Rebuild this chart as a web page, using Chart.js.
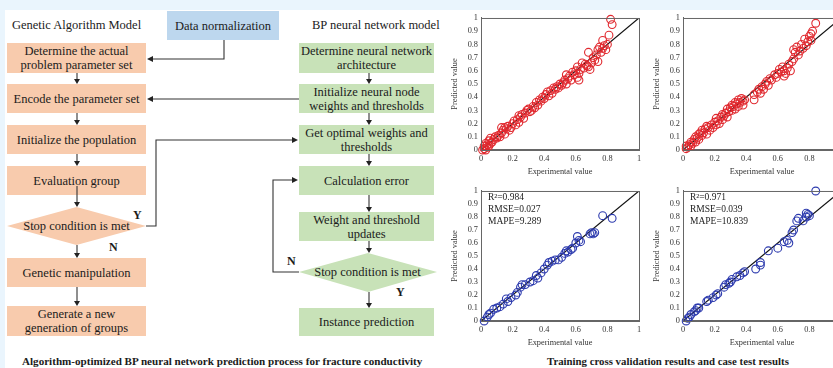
<!DOCTYPE html>
<html lang="en">
<head>
<meta charset="UTF-8">
<title>Algorithm-optimized BP neural network prediction</title>
<script src="https://cdn.jsdelivr.net/npm/chart.js@4"></script>
<style>
  body { margin: 0; background: #fff; }
  #page {
    position: relative; width: 833px; height: 368px; overflow: hidden;
    background: #fff; font-family: "Liberation Serif", serif; color: #1b1b1b;
  }
  .band-top { position: absolute; left: 0; top: 0; width: 833px; height: 10px; background: #eaf5fd; }
  .band-left { position: absolute; left: 0; top: 0; width: 5px; height: 368px; background: #eaf5fd; }
  .box {
    position: absolute; display: flex; align-items: center; justify-content: center;
    text-align: center; font-size: 12.5px; line-height: 14px;
  }
  .ga { background: #f8cbad; }
  .bp { background: #c8e2b8; }
  .norm { background: #bdd7ee; }
  .label { position: absolute; font-size: 12.5px; white-space: nowrap; line-height: 14px; }
  .yn { position: absolute; font-weight: bold; font-size: 12px; line-height: 12px; }
  .caption { position: absolute; font-weight: bold; font-size: 11.1px; white-space: nowrap; line-height: 12px; }
  canvas { position: absolute; }
  svg { position: absolute; left: 0; top: 0; }
</style>
</head>
<body>
<div id="page">
  <div class="band-top"></div>
  <div class="band-left"></div>

  <div class="label" style="left:12px; top:18px;">Genetic Algorithm Model</div>
  <div class="label" style="left:312px; top:18px;">BP neural network model</div>
  <div class="box norm" style="left:167px; top:11px; width:112px; height:29px;">Data normalization</div>

  <div id="flow"></div>

  <svg id="lines" width="833" height="368"></svg>

  <div class="label" style="left:7px; top:219px; width:139px; text-align:center;">Stop condition is met</div>
  <div class="label" style="left:299px; top:265px; width:137px; text-align:center;">Stop condition is met</div>
  <div class="yn" style="left:133px; top:209px;">Y</div>
  <div class="yn" style="left:109px; top:241px;">N</div>
  <div class="yn" style="left:287px; top:255px;">N</div>
  <div class="yn" style="left:396px; top:286px;">Y</div>

  <canvas id="c1" width="205" height="172" style="left:445px; top:10px;"></canvas>
  <canvas id="c2" width="205" height="172" style="left:647px; top:10px;"></canvas>
  <canvas id="c3" width="205" height="170" style="left:445px; top:183px;"></canvas>
  <canvas id="c4" width="205" height="170" style="left:647px; top:183px;"></canvas>

  <div class="caption" style="left:22px; top:355px;">Algorithm-optimized BP neural network prediction process for fracture conductivity</div>
  <div class="caption" style="left:547px; top:355px; font-size:10.8px;">Training cross validation results and case test results</div>
</div>

<script>
// ---- data ----
const trainAX = [0.01,0.02,0.02,0.03,0.03,0.04,0.04,0.05,0.05,0.06,0.06,0.07,0.08,0.09,0.10,0.11,0.12,0.13,0.13,0.14,
  0.15,0.15,0.16,0.17,0.18,0.19,0.20,0.21,0.22,0.23,0.24,0.24,0.25,0.26,0.27,0.28,0.29,0.30,0.31,0.32,
  0.33,0.34,0.35,0.36,0.37,0.38,0.39,0.40,0.41,0.42,0.43,0.44,0.45,0.46,0.47,0.48,0.49,0.50,0.51,0.52,
  0.53,0.54,0.54,0.55,0.56,0.57,0.58,0.59,0.60,0.61,0.61,0.62,0.62,0.63,0.64,0.65,0.66,0.67,0.68,0.68,
  0.69,0.70,0.71,0.72,0.73,0.74,0.74,0.75,0.76,0.77,0.77,0.78,0.79,0.80,0.81,0.82,0.83];
const trainAY = [0.00,0.01,0.03,0.00,0.05,0.02,0.04,0.07,0.03,0.05,0.09,0.06,0.08,0.10,0.09,0.11,0.10,0.17,0.13,0.15,
  0.17,0.12,0.16,0.18,0.15,0.17,0.20,0.22,0.19,0.23,0.21,0.26,0.25,0.27,0.24,0.28,0.30,0.31,0.29,0.30,
  0.33,0.32,0.36,0.34,0.38,0.37,0.40,0.39,0.42,0.44,0.41,0.45,0.43,0.47,0.46,0.48,0.47,0.50,0.49,0.51,
  0.53,0.57,0.50,0.54,0.56,0.53,0.59,0.57,0.60,0.55,0.63,0.53,0.58,0.61,0.66,0.62,0.65,0.64,0.74,0.63,
  0.61,0.66,0.70,0.68,0.72,0.67,0.76,0.78,0.74,0.83,0.77,0.79,0.76,0.80,0.87,0.99,0.95];

const trainBX = [0.02,0.02,0.03,0.04,0.05,0.05,0.06,0.07,0.08,0.08,0.09,0.10,0.10,0.11,0.12,0.12,0.13,0.14,0.15,0.15,
  0.16,0.17,0.18,0.19,0.20,0.21,0.21,0.22,0.23,0.24,0.25,0.25,0.26,0.27,0.28,0.28,0.29,0.30,0.31,0.31,
  0.32,0.33,0.33,0.34,0.35,0.35,0.36,0.37,0.38,0.38,0.39,0.45,0.45,0.47,0.48,0.49,0.50,0.51,0.52,0.53,
  0.54,0.55,0.56,0.58,0.59,0.60,0.61,0.62,0.63,0.64,0.64,0.65,0.66,0.67,0.68,0.69,0.70,0.70,0.71,0.72,
  0.73,0.74,0.75,0.76,0.77,0.78,0.79,0.80,0.81,0.81,0.82,0.84];
const trainBY = [0.01,0.03,0.02,0.04,0.03,0.06,0.05,0.08,0.06,0.10,0.09,0.12,0.08,0.13,0.11,0.15,0.13,0.16,0.12,0.18,
  0.17,0.15,0.19,0.17,0.21,0.19,0.24,0.22,0.20,0.25,0.23,0.27,0.26,0.28,0.25,0.31,0.29,0.32,0.30,0.34,
  0.33,0.31,0.36,0.35,0.33,0.38,0.36,0.39,0.37,0.34,0.38,0.38,0.42,0.44,0.46,0.43,0.48,0.46,0.50,0.52,
  0.49,0.54,0.53,0.57,0.55,0.58,0.61,0.59,0.63,0.56,0.60,0.58,0.62,0.65,0.60,0.67,0.69,0.76,0.74,0.78,
  0.72,0.75,0.80,0.77,0.84,0.79,0.82,0.86,0.83,0.88,0.90,0.96];

const testAX = [0.02,0.04,0.05,0.06,0.08,0.10,0.12,0.14,0.16,0.17,0.19,0.22,0.23,0.25,0.26,0.28,0.31,0.33,0.35,0.36,
  0.38,0.40,0.42,0.43,0.45,0.47,0.49,0.51,0.53,0.54,0.55,0.57,0.58,0.60,0.61,0.62,0.63,0.69,0.70,0.71,
  0.72,0.77,0.83];
const testAY = [0.00,0.03,0.05,0.06,0.09,0.10,0.11,0.13,0.17,0.15,0.18,0.20,0.22,0.26,0.28,0.28,0.30,0.31,0.35,0.33,
  0.37,0.40,0.43,0.45,0.46,0.47,0.47,0.49,0.52,0.54,0.53,0.55,0.56,0.60,0.65,0.62,0.61,0.67,0.68,0.67,
  0.68,0.81,0.79];

const testBX = [0.02,0.03,0.04,0.05,0.07,0.08,0.09,0.10,0.15,0.16,0.19,0.21,0.22,0.26,0.27,0.29,0.30,0.31,0.34,0.36,
  0.38,0.39,0.46,0.49,0.49,0.54,0.60,0.64,0.66,0.67,0.69,0.70,0.72,0.73,0.76,0.78,0.78,0.79,0.80,0.84];
const testBY = [0.00,0.02,0.03,0.05,0.07,0.08,0.10,0.10,0.15,0.16,0.18,0.20,0.21,0.26,0.28,0.29,0.30,0.32,0.34,0.35,
  0.37,0.38,0.40,0.45,0.43,0.54,0.56,0.61,0.62,0.60,0.68,0.70,0.77,0.79,0.77,0.80,0.83,0.82,0.81,1.00];

const diagX = [0, 1];
const diagY = [0, 1];

const testAStats = ['R\u00b2=0.984', 'RMSE=0.027', 'MAPE=9.289'];
const testBStats = ['R\u00b2=0.971', 'RMSE=0.039', 'MAPE=10.839'];

const redPoint = '#e0282e';
const bluePoint = '#2c3aae';

// ---- flowchart boxes ----
const gaSteps = [
  [43, 30, 'Determine the actual<br>problem parameter set'],
  [84, 29, 'Encode the parameter set'],
  [125, 29, 'Initialize the population'],
  [166, 29, 'Evaluation group'],
  [258, 29, 'Genetic manipulation'],
  [306, 30, 'Generate a new<br>generation of groups']
];
const bpSteps = [
  [43, 30, 'Determine neural network<br>architecture'],
  [84, 29, 'Initialize neural node<br>weights and thresholds'],
  [125, 29, 'Get optimal weights and<br>thresholds'],
  [166, 29, 'Calculation error'],
  [212, 29, 'Weight and threshold<br>updates'],
  [308, 28, 'Instance prediction']
];

const flow = document.getElementById('flow');
gaSteps.forEach(s => {
  flow.insertAdjacentHTML('beforeend',
    `<div class="box ga" style="left:7px;top:${s[0]}px;width:139px;height:${s[1]}px;">${s[2]}</div>`);
});
bpSteps.forEach(s => {
  flow.insertAdjacentHTML('beforeend',
    `<div class="box bp" style="left:299px;top:${s[0]}px;width:135px;height:${s[1]}px;">${s[2]}</div>`);
});

// connectors
const svg = document.getElementById('lines');
let svgHtml = '';
svgHtml += '<polygon points="7,226 76.5,207 146,226 76.5,245" fill="#f8cbad"/>';
svgHtml += '<polygon points="299,272 368,253 437,272 368,292" fill="#c8e2b8"/>';

function path(pts) {
  svgHtml += `<polyline points="${pts.map(p => p.join(',')).join(' ')}" fill="none" stroke="#333" stroke-width="1.1"/>`;
}
function head(x, y, dir) {
  let p;
  if (dir === 'down') p = [[x - 3, y - 5], [x + 3, y - 5], [x, y]];
  else if (dir === 'left') p = [[x + 6, y - 3], [x + 6, y + 3], [x, y]];
  else p = [[x - 6, y - 3], [x - 6, y + 3], [x, y]];
  svgHtml += `<polygon points="${p.map(q => q.join(',')).join(' ')}" fill="#222"/>`;
}
function down(x, y1, y2) { path([[x, y1], [x, y2 - 2]]); head(x, y2, 'down'); }

[[73, 84], [113, 125], [154, 166], [186, 207], [245, 258], [287, 306]].forEach(s => down(77, s[0], s[1]));
[[73, 84], [113, 125], [154, 166], [195, 212], [241, 253], [292, 308]].forEach(s => down(369, s[0], s[1]));

path([[224, 40], [224, 59], [150, 59]]); head(147, 59, 'left');
path([[299, 99], [150, 99]]); head(147, 99, 'left');
path([[146, 226], [156, 226], [156, 140], [295, 140]]); head(298, 140, 'right');
path([[299, 272], [273, 272], [273, 180], [295, 180]]); head(298, 180, 'right');
svg.innerHTML = svgHtml;

// ---- scatter panels ----
const frame = {
  id: 'frame',
  afterDraw(chart) {
    const a = chart.chartArea, ctx = chart.ctx;
    ctx.save();
    ctx.strokeStyle = '#666';
    ctx.lineWidth = 1;
    ctx.strokeRect(a.left + 0.5, a.top + 0.5, a.right - a.left, a.bottom - a.top);
    const stats = chart.options.plugins.frame.stats;
    if (stats) {
      ctx.fillStyle = '#222';
      ctx.font = '9.5px "Liberation Serif"';
      ctx.textBaseline = 'middle';
      stats.forEach((t, i) => ctx.fillText(t, a.left + 7, a.top + 7 + i * 12));
    }
    ctx.restore();
  }
};

const tickFont = { family: 'Liberation Serif', size: 8.3 };
const fmt = v => String(Math.round(v * 10) / 10);

function panel(id, xs, ys, color, stats) {
  new Chart(document.getElementById(id), {
    type: 'scatter',
    data: {
      datasets: [
        {
          data: xs.map((x, i) => ({ x: x, y: ys[i] })),
          pointStyle: 'circle', pointRadius: 3.9, borderWidth: 1.1,
          borderColor: color, backgroundColor: 'rgba(0,0,0,0)', clip: false
        },
        {
          type: 'line',
          data: diagX.map((x, i) => ({ x: x, y: diagY[i] })),
          borderColor: '#111', borderWidth: 1.2, pointRadius: 0
        }
      ]
    },
    options: {
      responsive: false, animation: false,
      layout: { padding: { top: 7, right: 11, left: 0, bottom: 0 } },
      plugins: { legend: { display: false }, tooltip: { enabled: false }, frame: { stats: stats } },
      scales: {
        x: {
          type: 'linear', min: 0, max: 1,
          ticks: { stepSize: 0.2, color: '#333', font: tickFont, padding: 4, maxRotation: 0, callback: fmt },
          grid: { display: false, drawTicks: false },
          border: { color: '#666' },
          title: { display: true, text: 'Experimental value', color: '#333', font: tickFont, padding: { top: 0, bottom: 5 } },
          afterFit: s => { s.height = 32; }
        },
        y: {
          min: 0, max: 1,
          ticks: { stepSize: 0.1, color: '#333', font: tickFont, padding: 3, callback: fmt },
          grid: { display: false, drawTicks: false },
          border: { color: '#666' },
          title: { display: true, text: 'Predicted value', color: '#333', font: tickFont, padding: { top: 5, bottom: 0 } },
          afterFit: s => { s.width = 36; }
        }
      }
    },
    plugins: [frame]
  });
}

panel('c1', trainAX, trainAY, redPoint, null);
panel('c2', trainBX, trainBY, redPoint, null);
panel('c3', testAX, testAY, bluePoint, testAStats);
panel('c4', testBX, testBY, bluePoint, testBStats);
</script>
</body>
</html>
